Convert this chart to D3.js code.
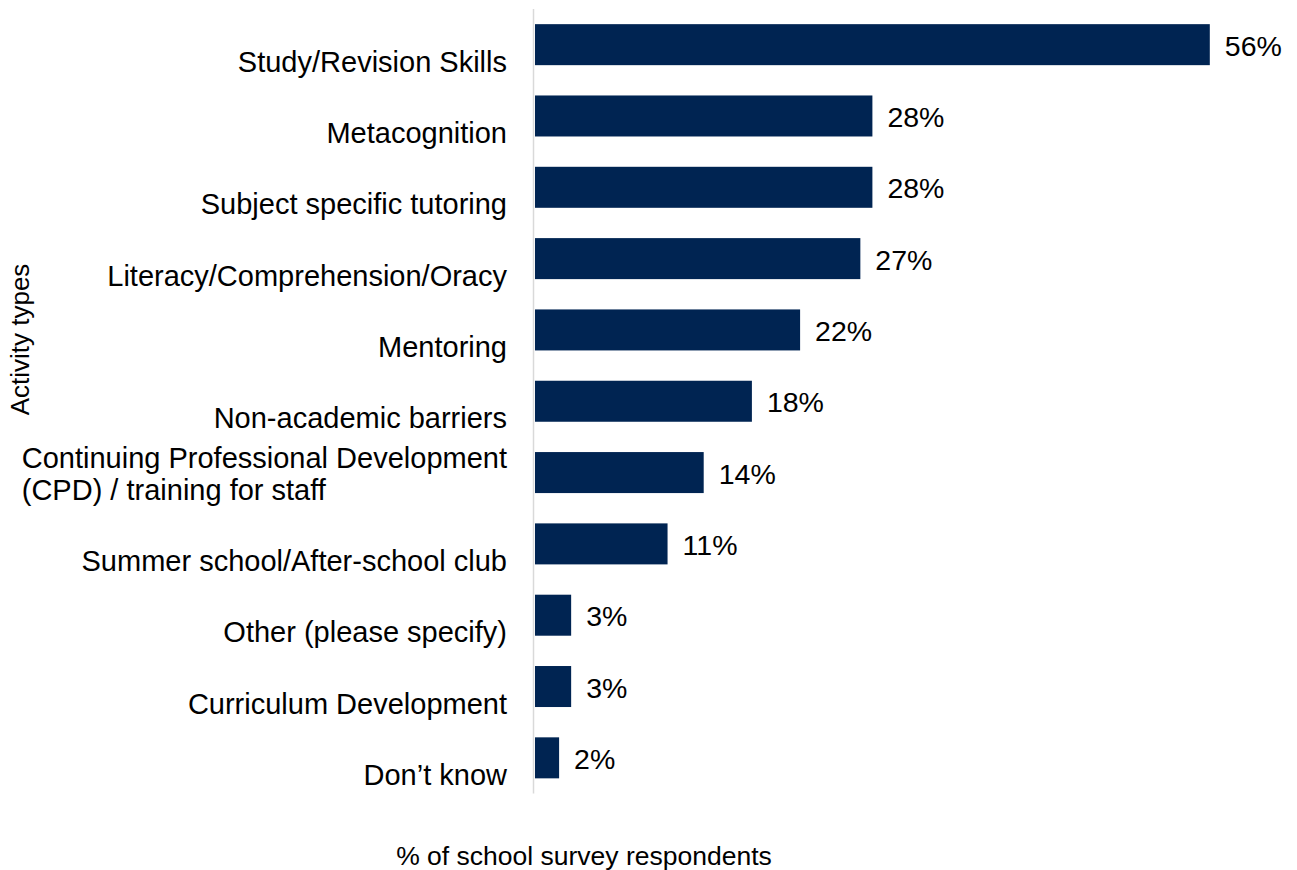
<!DOCTYPE html>
<html>
<head>
<meta charset="utf-8">
<script src="https://cdn.jsdelivr.net/npm/d3@7"></script>
<style>
  html, body { margin: 0; padding: 0; background: #ffffff; }
  svg { display: block; font-family: "Liberation Sans", Arial, sans-serif; }
</style>
</head>
<body>
<svg id="chart" width="1297" height="870"></svg>
<script>
// Activity types reported by schools, top to bottom
const categories = [
  "Study/Revision Skills",
  "Metacognition",
  "Subject specific tutoring",
  "Literacy/Comprehension/Oracy",
  "Mentoring",
  "Non-academic barriers",
  "Continuing Professional Development|(CPD) / training for staff",
  "Summer school/After-school club",
  "Other (please specify)",
  "Curriculum Development",
  "Don\u2019t know"
];

// Share of school survey respondents (%)
const values = [56, 28, 28, 27, 22, 18, 14, 11, 3, 3, 2];

const xAxisTitle = "% of school survey respondents";
const yAxisTitle = "Activity types";

const barColor = "#002452";
const svg = d3.select("#chart");

const x = d3.scaleLinear().domain([0, 60]).range([535, 535 + 60 * 12.05]);
const y = d3.scaleBand()
  .domain(categories)
  .range([9, 793.5])
  .paddingInner(0.425)
  .paddingOuter(0.2125);

const rows = categories.map((c, i) => ({ cat: c, value: values[i] }));

// vertical category axis line
svg.append("line")
  .attr("x1", x(0) - 1.5).attr("x2", x(0) - 1.5)
  .attr("y1", y.range()[0]).attr("y2", y.range()[1])
  .attr("stroke", "#d9d9d9")
  .attr("stroke-width", 1.5);

// bars
svg.append("g").selectAll("rect")
  .data(rows)
  .join("rect")
  .attr("x", x(0))
  .attr("y", d => y(d.cat))
  .attr("width", d => x(d.value) - x(0))
  .attr("height", y.bandwidth())
  .attr("fill", barColor);

// value labels
svg.append("g").selectAll("text")
  .data(rows)
  .join("text")
  .attr("x", d => x(d.value) + 15)
  .attr("y", d => y(d.cat) + y.bandwidth() / 2 + 11)
  .attr("font-size", 28.5)
  .attr("fill", "#000")
  .text(d => d.value + "%");

// category labels: block right-aligned to the axis, wrapped lines left-aligned within the block
const labelRight = 507;
const labels = svg.append("g").selectAll("text")
  .data(rows)
  .join("text")
  .attr("font-size", 29)
  .attr("fill", "#000");

labels.each(function (d) {
  const lines = d.cat.split("|");
  const base = y(d.cat) + y.bandwidth() / 2 + 27;
  const lh = 32;
  const t = d3.select(this);
  const spans = t.selectAll("tspan")
    .data(lines)
    .join("tspan")
    .attr("y", (l, i) => base - (lines.length - 1 - i) * lh)
    .text(l => l);
  let maxW = 0;
  spans.each(function () { maxW = Math.max(maxW, this.getComputedTextLength()); });
  spans.attr("x", labelRight - maxW);
});

// axis titles
svg.append("text")
  .attr("x", 584)
  .attr("y", 865)
  .attr("text-anchor", "middle")
  .attr("font-size", 26.5)
  .attr("fill", "#000")
  .text(xAxisTitle);

svg.append("text")
  .attr("transform", "translate(28.5,339.5) rotate(-90)")
  .attr("text-anchor", "middle")
  .attr("font-size", 26)
  .attr("fill", "#000")
  .text(yAxisTitle);
</script>
</body>
</html>
